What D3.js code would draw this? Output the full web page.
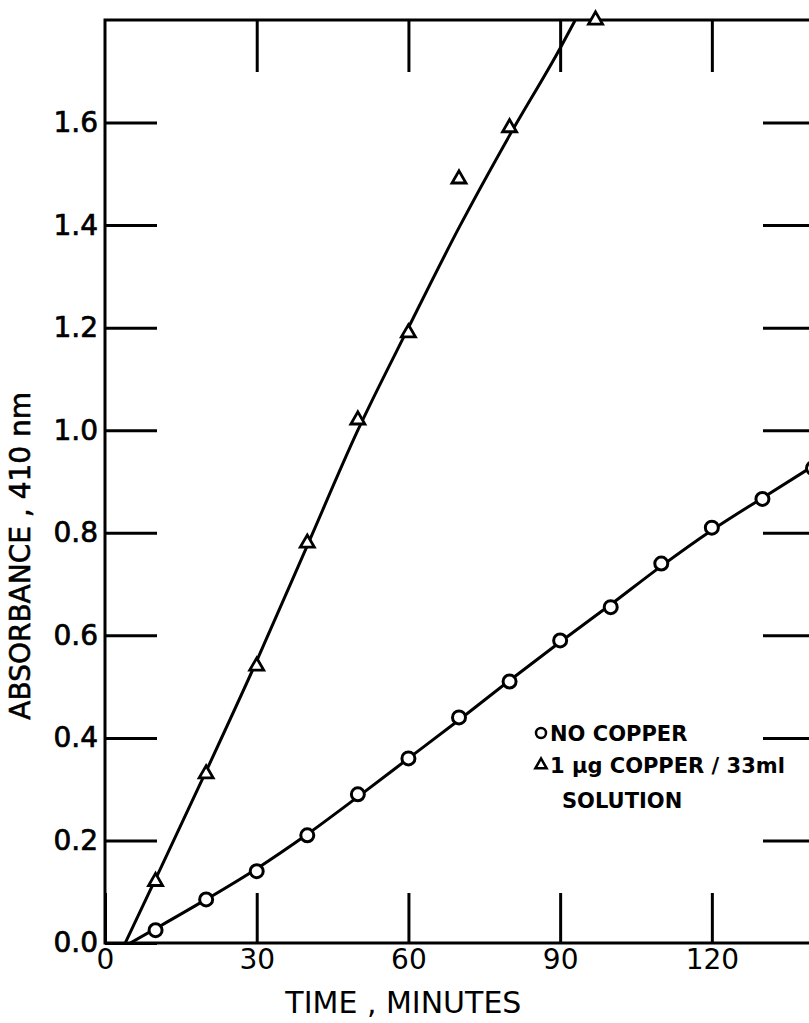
<!DOCTYPE html>
<html>
<head>
<meta charset="utf-8">
<script src="https://cdn.jsdelivr.net/npm/d3@7"></script>
<style>
  body { margin: 0; background: #fff; }
  svg text { font-family: "DejaVu Sans", sans-serif; fill: #000; }
</style>
</head>
<body>
<main></main>
<script>
// measured points, time in minutes
const times = [10, 20, 30, 40, 50, 60, 70, 80, 90, 100, 110, 120, 130, 140];
const noCopper = [0.025, 0.085, 0.14, 0.21, 0.29, 0.36, 0.44, 0.51, 0.59, 0.655, 0.74, 0.81, 0.866, 0.926];
const copperTimes = [10, 20, 30, 40, 50, 60, 70, 80, 97];
const copper = [0.12, 0.33, 0.54, 0.78, 1.02, 1.19, 1.49, 1.59, 1.8];

// hand drawn fit curves
const fitNoCopperTimes = [5, 10, 20, 30, 40, 50, 60, 70, 80, 90, 100, 110, 120, 130, 140, 150];
const fitNoCopper = [0, 0.028, 0.085, 0.145, 0.212, 0.285, 0.36, 0.435, 0.512, 0.587, 0.66, 0.735, 0.805, 0.868, 0.93, 0.99];
const fitCopperTimes = [4, 10, 20, 30, 40, 50, 60, 70, 80, 90, 93];
const fitCopper = [0, 0.125, 0.335, 0.55, 0.775, 1.0, 1.2, 1.395, 1.575, 1.745, 1.8];

// axis ticks
const xTicks = [0, 30, 60, 90, 120];
const yTicks = [0, 0.2, 0.4, 0.6, 0.8, 1.0, 1.2, 1.4, 1.6];

const legendItems = [
  { symbol: "circle", lines: ["NO COPPER"] },
  { symbol: "triangle", lines: ["1 μg COPPER / 33ml", "SOLUTION"] },
];

draw(document.querySelector("main"));

function draw(el) {
  const margin = { top: 20, right: 0, bottom: 80, left: 105 },
    width = 809,
    height = 1023,
    plotW = 708,
    plotH = height - margin.top - margin.bottom;

  const svg = d3
    .select(el)
    .append("svg")
    .attr("width", width)
    .attr("height", height)
    .append("g")
    .attr("transform", `translate(${margin.left},${margin.top})`);

  // scales
  const x = d3.scaleLinear().domain([0, 140]).range([0, plotW]);
  const y = d3.scaleLinear().domain([0, 1.8]).range([plotH, 0]);

  // frame
  svg.append("rect")
    .attr("x", 0)
    .attr("y", 0)
    .attr("width", plotW)
    .attr("height", plotH)
    .attr("fill", "none")
    .attr("stroke", "#000")
    .attr("stroke-width", 3);

  // Build X axis (ticks point inward)
  svg.append("g")
    .attr("class", "x-axis")
    .attr("transform", `translate(0, ${plotH})`)
    .call(d3.axisBottom(x).tickValues(xTicks).tickSize(-50).tickPadding(6).tickFormat(d3.format("d")));
  svg.append("g")
    .call(d3.axisTop(x).tickValues(xTicks.slice(1)).tickSize(-52).tickFormat(""));

  // Build Y axis
  svg.append("g")
    .attr("class", "y-axis")
    .call(d3.axisLeft(y).tickValues(yTicks).tickSize(-52).tickPadding(7).tickFormat(d3.format(".1f")));
  svg.append("g")
    .attr("transform", `translate(${plotW}, 0)`)
    .call(d3.axisRight(y).tickValues(yTicks.slice(1)).tickSize(-50).tickFormat(""));

  svg.selectAll(".domain").remove();
  svg.selectAll(".tick line").attr("stroke", "#000").attr("stroke-width", 3);
  svg.selectAll(".tick text")
    .attr("font-size", "28px")
    .attr("font-family", "DejaVu Sans, sans-serif")
    .attr("fill", "#000");
  // the y labels are a heavier lettering in the figure
  svg.selectAll(".y-axis .tick text")
    .attr("stroke", "#000")
    .attr("stroke-width", 0.7);

  // axis titles
  svg.append("text")
    .attr("x", x(59))
    .attr("y", plotH + 70)
    .attr("text-anchor", "middle")
    .attr("font-size", "30px")
    .text("TIME , MINUTES");

  svg.append("text")
    .attr("transform", `translate(${-75}, ${y(0.755)}) rotate(-90)`)
    .attr("text-anchor", "middle")
    .attr("font-size", "28px")
    .attr("stroke", "#000")
    .attr("stroke-width", 0.6)
    .text("ABSORBANCE , 410 nm");

  // fit curves
  const line = d3.line()
    .x((d) => x(d[0]))
    .y((d) => y(d[1]))
    .curve(d3.curveMonotoneX);

  svg.append("clipPath").attr("id", "plot-clip")
    .append("rect").attr("x", 0).attr("y", 0).attr("width", plotW).attr("height", plotH);

  svg.append("path")
    .datum(fitNoCopperTimes.map((t, i) => [t, fitNoCopper[i]]))
    .attr("clip-path", "url(#plot-clip)")
    .attr("fill", "none")
    .attr("stroke", "#000")
    .attr("stroke-width", 3)
    .attr("d", line);

  svg.append("path")
    .datum(fitCopperTimes.map((t, i) => [t, fitCopper[i]]))
    .attr("fill", "none")
    .attr("stroke", "#000")
    .attr("stroke-width", 3)
    .attr("d", line);

  // markers
  svg.selectAll(".pt-circle")
    .data(times.map((t, i) => [t, noCopper[i]]))
    .enter()
    .append("circle")
    .attr("class", "pt-circle")
    .attr("cx", (d) => x(d[0]))
    .attr("cy", (d) => y(d[1]))
    .attr("r", 6.5)
    .attr("fill", "#fff")
    .attr("stroke", "#000")
    .attr("stroke-width", 3);

  const tri = d3.symbol().type(d3.symbolTriangle).size(85);
  svg.selectAll(".pt-tri")
    .data(copperTimes.map((t, i) => [t, copper[i]]))
    .enter()
    .append("path")
    .attr("class", "pt-tri")
    .attr("transform", (d) => `translate(${x(d[0])},${y(d[1])})`)
    .attr("d", tri)
    .attr("fill", "#fff")
    .attr("stroke", "#000")
    .attr("stroke-width", 2.8);

  // legend
  const legend = svg.append("g").attr("transform", `translate(${436}, ${713})`);
  let rowY = 0;
  legendItems.forEach((item) => {
    if (item.symbol === "circle") {
      legend.append("circle")
        .attr("cx", 0).attr("cy", rowY)
        .attr("r", 5)
        .attr("fill", "#fff")
        .attr("stroke", "#000")
        .attr("stroke-width", 2.5);
    } else {
      legend.append("path")
        .attr("transform", `translate(0,${rowY})`)
        .attr("d", d3.symbol().type(d3.symbolTriangle).size(55))
        .attr("fill", "#fff")
        .attr("stroke", "#000")
        .attr("stroke-width", 2.5);
    }
    item.lines.forEach((txt, j) => {
      legend.append("text")
        .attr("x", j === 0 ? 9 : 21)
        .attr("y", rowY + 8 + j * 35)
        .attr("font-size", "21px")
        .attr("font-weight", "bold")
        .text(txt);
    });
    rowY += 32;
  });
}
</script>
</body>
</html>
